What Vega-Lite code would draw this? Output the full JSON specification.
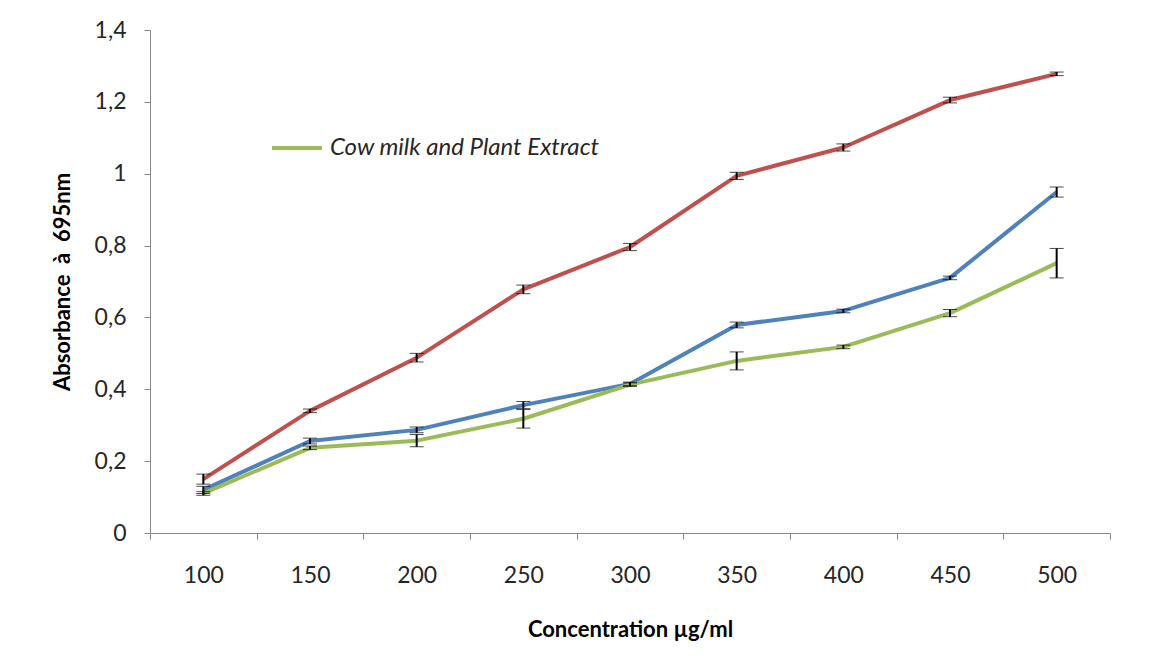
{
  "$schema": "https://vega.github.io/schema/vega-lite/v6.json",
  "width": 960,
  "height": 503,
  "autosize": {"type": "none"},
  "padding": {"left": 150, "top": 30, "right": 64, "bottom": 135},
  "background": "white",
  "config": {
    "locale": {"number": {"decimal": ",", "thousands": " ", "grouping": [3], "currency": ["", ""]}},
    "view": {"stroke": null},
    "font": "Lato"
  },
  "data": {
    "values": [
      {"conc": 100, "series": "Cow milk", "value": 0.120, "err": 0.010},
      {"conc": 150, "series": "Cow milk", "value": 0.256, "err": 0.008},
      {"conc": 200, "series": "Cow milk", "value": 0.287, "err": 0.008},
      {"conc": 250, "series": "Cow milk", "value": 0.356, "err": 0.010},
      {"conc": 300, "series": "Cow milk", "value": 0.415, "err": 0.005},
      {"conc": 350, "series": "Cow milk", "value": 0.579, "err": 0.008},
      {"conc": 400, "series": "Cow milk", "value": 0.618, "err": 0.005},
      {"conc": 450, "series": "Cow milk", "value": 0.710, "err": 0.005},
      {"conc": 500, "series": "Cow milk", "value": 0.949, "err": 0.014},
      {"conc": 100, "series": "Plant Extract", "value": 0.150, "err": 0.014},
      {"conc": 150, "series": "Plant Extract", "value": 0.340, "err": 0.005},
      {"conc": 200, "series": "Plant Extract", "value": 0.488, "err": 0.012},
      {"conc": 250, "series": "Plant Extract", "value": 0.678, "err": 0.012},
      {"conc": 300, "series": "Plant Extract", "value": 0.796, "err": 0.010},
      {"conc": 350, "series": "Plant Extract", "value": 0.994, "err": 0.010},
      {"conc": 400, "series": "Plant Extract", "value": 1.073, "err": 0.010},
      {"conc": 450, "series": "Plant Extract", "value": 1.205, "err": 0.008},
      {"conc": 500, "series": "Plant Extract", "value": 1.278, "err": 0.005},
      {"conc": 100, "series": "Cow milk and Plant Extract", "value": 0.110, "err": 0.005},
      {"conc": 150, "series": "Cow milk and Plant Extract", "value": 0.237, "err": 0.005},
      {"conc": 200, "series": "Cow milk and Plant Extract", "value": 0.257, "err": 0.017},
      {"conc": 250, "series": "Cow milk and Plant Extract", "value": 0.318, "err": 0.026},
      {"conc": 300, "series": "Cow milk and Plant Extract", "value": 0.413, "err": 0.005},
      {"conc": 350, "series": "Cow milk and Plant Extract", "value": 0.479, "err": 0.025},
      {"conc": 400, "series": "Cow milk and Plant Extract", "value": 0.518, "err": 0.005},
      {"conc": 450, "series": "Cow milk and Plant Extract", "value": 0.612, "err": 0.010},
      {"conc": 500, "series": "Cow milk and Plant Extract", "value": 0.751, "err": 0.041}
    ]
  },
  "encoding": {
    "x": {
      "field": "conc",
      "type": "ordinal",
      "bandPosition": 0.5,
      "scale": {"type": "band", "paddingInner": 0, "paddingOuter": 0},
      "axis": {
        "title": "Concentration µg/ml",
        "titleFontSize": 22,
        "titleFontWeight": "bold",
        "titleColor": "black",
        "titlePadding": 32,
        "labelAngle": 0,
        "labelFontSize": 23,
        "labelColor": "#262626",
        "labelPadding": 25,
        "tickBand": "extent",
        "tickSize": 6,
        "tickColor": "#868686",
        "domainColor": "#868686",
        "grid": false
      }
    },
    "y": {
      "field": "value",
      "type": "quantitative",
      "scale": {"domain": [0, 1.4], "nice": false},
      "axis": {
        "title": "Absorbance \u00a0à \u00a0695nm",
        "titleFontSize": 22,
        "titleFontWeight": "bold",
        "titleColor": "black",
        "titlePadding": 20,
        "values": [0, 0.2, 0.4, 0.6, 0.8, 1, 1.2, 1.4],
        "format": ".1~f",
        "labelFontSize": 23,
        "labelColor": "#262626",
        "labelPadding": 18,
        "tickSize": 6,
        "tickColor": "#868686",
        "domainColor": "#868686",
        "grid": false
      }
    }
  },
  "layer": [
    {
      "mark": {"type": "line", "strokeWidth": 4, "strokeJoin": "round"},
      "encoding": {
        "color": {
          "field": "series",
          "type": "nominal",
          "scale": {
            "domain": ["Cow milk", "Plant Extract", "Cow milk and Plant Extract"],
            "range": ["#4F81BD", "#C0504D", "#9BBB59"]
          },
          "legend": {
            "values": ["Cow milk and Plant Extract"],
            "title": null,
            "orient": "none",
            "legendX": 120,
            "legendY": 91,
            "symbolType": "stroke",
            "symbolSize": 2500,
            "symbolStrokeWidth": 4,
            "labelFontSize": 24,
            "labelFontStyle": "italic",
            "labelColor": "#262626",
            "labelOffset": 6,
            "labelLimit": 0
          }
        }
      }
    },
    {
      "mark": {"type": "errorbar", "ticks": {"size": 14, "color": "black", "strokeWidth": 2}, "rule": {"color": "black", "strokeWidth": 2}},
      "encoding": {
        "yError": {"field": "err"}
      }
    }
  ]
}
